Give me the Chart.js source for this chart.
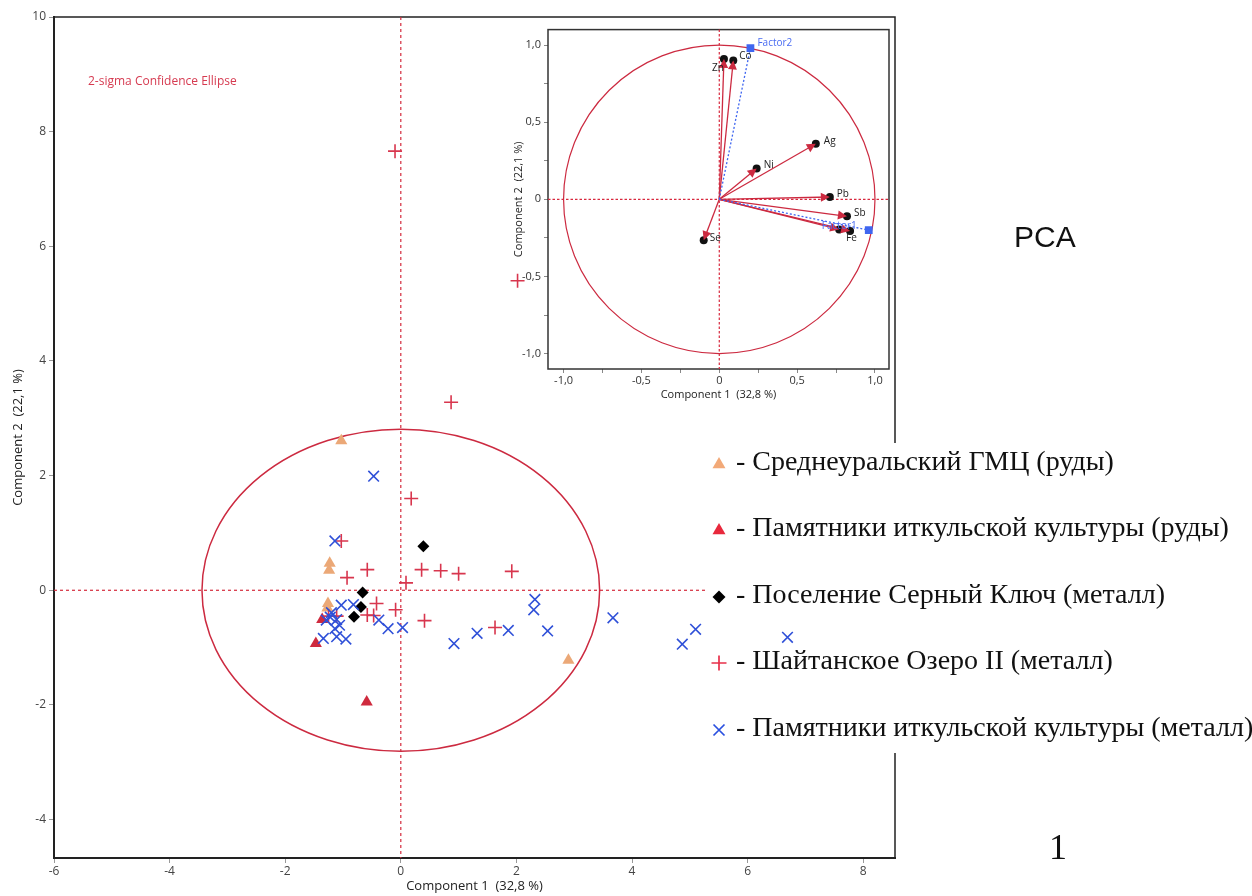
<!DOCTYPE html>
<html><head><meta charset="utf-8">
<script src="https://cdn.jsdelivr.net/npm/chart.js@4.4.1/dist/chart.umd.min.js"></script>
<style>
html,body{margin:0;padding:0;background:#fff;}
#wrap{position:relative;width:1252px;height:896px;overflow:hidden;}
#main{position:absolute;left:0;top:0;}
#inset{position:absolute;left:490px;top:20px;}
</style></head><body>
<div id="wrap">
<canvas id="main" width="1252" height="896" style="width:1252px;height:896px"></canvas>
<canvas id="inset" width="405" height="385" style="width:405px;height:385px"></canvas>
</div>
<script>
// ---------- main scores plot data ----------
const xTicksMain = [-6, -4, -2, 0, 2, 4, 6, 8];
const yTicksMain = [-4, -2, 0, 2, 4, 6, 8, 10];

const legendLabels = [
  '- Среднеуральский ГМЦ (руды)',
  '- Памятники иткульской культуры (руды)',
  '- Поселение Серный Ключ (металл)',
  '- Шайтанское Озеро II (металл)',
  '- Памятники иткульской культуры (металл)'
];

const oresSredneural = [[-1.03, 2.61], [-1.23, 0.47], [-1.24, 0.35], [-1.26, -0.23], [-1.27, -0.31], [2.90, -1.22]];
const oresItkul = [[-1.36, -0.51], [-1.47, -0.93], [-0.59, -1.95]];
const metalSerny = [[0.39, 0.77], [-0.66, -0.04], [-0.69, -0.29], [-0.81, -0.46]];
const metalShaitan = [[-0.10, 7.66], [2.02, 5.40], [0.87, 3.28], [0.18, 1.60], [-1.03, 0.86], [-0.58, 0.36],
  [-0.93, 0.22], [0.36, 0.36], [0.69, 0.34], [1.00, 0.29], [1.92, 0.33], [0.09, 0.13], [-0.42, -0.23],
  [-0.09, -0.34], [-0.58, -0.43], [-0.47, -0.44], [0.41, -0.53], [-1.11, -0.45], [-1.25, -0.45], [1.63, -0.65]];
const metalItkul = [[-0.47, 1.99], [-1.14, 0.86], [-1.03, -0.26], [-0.82, -0.25], [-1.20, -0.39], [-1.11, -0.51],
  [-1.29, -0.52], [-1.22, -0.47], [-1.06, -0.61], [-1.14, -0.67], [-1.34, -0.84], [-1.11, -0.81], [-0.95, -0.85],
  [-0.38, -0.52], [-0.22, -0.67], [0.03, -0.65], [0.92, -0.93], [1.32, -0.75], [1.86, -0.70], [2.30, -0.34],
  [2.32, -0.16], [2.54, -0.71], [3.67, -0.48], [4.87, -0.94], [5.10, -0.68], [6.69, -0.82]];

const ellipseCenter = [0, 0];
const ellipseRadii = [3.44, 2.81];

// ---------- inset loadings plot data ----------
const insetTicks = [-1, -0.75, -0.5, -0.25, 0, 0.25, 0.5, 0.75, 1];
const insetTickLabels = {'-1': '-1,0', '-0.5': '-0,5', '0': '0', '0.5': '0,5', '1': '1,0'};
const loadingNames = ['Zn', 'Co', 'Ag', 'Ni', 'Pb', 'Sb', 'Fe', '', 'Se'];
const loadingX = [0.03, 0.09, 0.62, 0.24, 0.71, 0.82, 0.84, 0.77, -0.10];
const loadingY = [0.91, 0.90, 0.36, 0.20, 0.015, -0.11, -0.205, -0.195, -0.265];
const factorNames = ['Factor2', 'Factor1'];
const factorX = [0.20, 0.96];
const factorY = [0.98, -0.20];

// ---------- styles ----------
const C_ORANGE = '#EBA877';
const C_REDTRI = '#CF2A3E';
const C_PLUS = '#D8364E';
const C_CROSS = '#2F50D8';
const C_RED = '#CC2A40';
const SANS = '"Open Sans", "Noto Sans", sans-serif';
const SERIF = '"Liberation Serif", "DejaVu Serif", serif';

const toPts = arr => arr.map(p => ({x: p[0], y: p[1]}));

function drawMarker(ctx, kind, x, y, r, color) {
  ctx.save();
  ctx.fillStyle = color; ctx.strokeStyle = color; ctx.lineWidth = 1.7;
  ctx.beginPath();
  if (kind === 'triangle') {
    ctx.moveTo(x, y - r); ctx.lineTo(x + 0.866 * r, y + 0.5 * r); ctx.lineTo(x - 0.866 * r, y + 0.5 * r);
    ctx.closePath(); ctx.fill();
  } else if (kind === 'diamond') {
    ctx.moveTo(x, y - r); ctx.lineTo(x + r, y); ctx.lineTo(x, y + r); ctx.lineTo(x - r, y);
    ctx.closePath(); ctx.fill();
  } else if (kind === 'plus') {
    ctx.moveTo(x - r, y); ctx.lineTo(x + r, y); ctx.moveTo(x, y - r); ctx.lineTo(x, y + r); ctx.stroke();
  } else if (kind === 'x') {
    ctx.moveTo(x - r, y - r); ctx.lineTo(x + r, y + r); ctx.moveTo(x + r, y - r); ctx.lineTo(x - r, y + r); ctx.stroke();
  }
  ctx.restore();
}

const legendKinds = ['triangle', 'triangle', 'diamond', 'plus', 'x'];
const legendColors = ['#F2A978', '#E8283C', '#000000', '#E8304A', '#2A50E0'];
const legendSizes = [7.5, 7.5, 6.5, 7.5, 5.5];

const mainDecor = {
  id: 'mainDecor',
  beforeDatasetsDraw(chart) {
    const {ctx, chartArea: a, scales: {x, y}} = chart;
    ctx.save();
    // top & right frame
    ctx.strokeStyle = '#222'; ctx.lineWidth = 1.5;
    ctx.beginPath(); ctx.moveTo(a.left, a.top); ctx.lineTo(a.right, a.top); ctx.lineTo(a.right, a.bottom); ctx.stroke();
    // zero reference lines
    const x0 = x.getPixelForValue(0), y0 = y.getPixelForValue(0);
    ctx.strokeStyle = '#D42A3C'; ctx.lineWidth = 1.2; ctx.setLineDash([3, 3]);
    ctx.beginPath(); ctx.moveTo(x0, a.top); ctx.lineTo(x0, a.bottom); ctx.stroke();
    ctx.beginPath(); ctx.moveTo(a.left, y0); ctx.lineTo(a.right, y0); ctx.stroke();
    ctx.setLineDash([]);
    // 2-sigma ellipse
    const cx = x.getPixelForValue(ellipseCenter[0]), cy = y.getPixelForValue(ellipseCenter[1]);
    const rx = Math.abs(x.getPixelForValue(ellipseCenter[0] + ellipseRadii[0]) - cx);
    const ry = Math.abs(y.getPixelForValue(ellipseCenter[1] + ellipseRadii[1]) - cy);
    ctx.strokeStyle = C_RED; ctx.lineWidth = 1.5;
    ctx.beginPath(); ctx.ellipse(cx, cy, rx, ry, 0, 0, Math.PI * 2); ctx.stroke();
    // annotation
    ctx.fillStyle = '#D63A50'; ctx.font = '12px ' + SANS; ctx.textBaseline = 'middle'; ctx.textAlign = 'left';
    ctx.fillText('2-sigma Confidence Ellipse', a.left + 34, a.top + 65);
    // legend box
    const lx = 707, ly = 443, lw = 1252 - 707, lh = 310;
    ctx.fillStyle = '#fff'; ctx.fillRect(lx, ly, lw, lh);
    const rows = [463, 529, 596, 662, 729];
    ctx.font = '28px ' + SERIF; ctx.fillStyle = '#111'; ctx.textBaseline = 'middle';
    legendLabels.forEach((t, i) => {
      drawMarker(ctx, legendKinds[i], 719, rows[i] + (legendKinds[i] === 'triangle' ? 1.5 : 1), legendSizes[i], legendColors[i]);
      ctx.fillText(t, 736, rows[i]);
    });
    ctx.restore();
  },
  afterDraw(chart) {
    const {ctx} = chart;
    ctx.save();
    ctx.fillStyle = '#111'; ctx.textBaseline = 'alphabetic'; ctx.textAlign = 'left';
    ctx.font = '30px "Liberation Sans", Arial, sans-serif';
    ctx.fillText('PCA', 1014, 247);
    ctx.font = '36px ' + SERIF; ctx.textAlign = 'center';
    ctx.fillText('1', 1058, 859);
    ctx.restore();
  }
};

new Chart(document.getElementById('main'), {
  type: 'scatter',
  data: {
    datasets: [
      {label: legendLabels[4], data: toPts(metalItkul), pointStyle: 'crossRot', radius: 7.5, borderColor: C_CROSS, backgroundColor: C_CROSS, borderWidth: 1.6, order: 0},
      {label: legendLabels[3], data: toPts(metalShaitan), pointStyle: 'cross', radius: 7, borderColor: C_PLUS, backgroundColor: C_PLUS, borderWidth: 1.6, order: 1},
      {label: legendLabels[2], data: toPts(metalSerny), pointStyle: 'rectRot', radius: 6, borderColor: '#000', backgroundColor: '#000', borderWidth: 0, order: 2},
      {label: legendLabels[1], data: toPts(oresItkul), pointStyle: 'triangle', radius: 7, borderColor: C_REDTRI, backgroundColor: C_REDTRI, borderWidth: 0, order: 3},
      {label: legendLabels[0], data: toPts(oresSredneural), pointStyle: 'triangle', radius: 7, borderColor: C_ORANGE, backgroundColor: C_ORANGE, borderWidth: 0, order: 4}
    ]
  },
  options: {
    responsive: false, animation: false, devicePixelRatio: 1,
    layout: {padding: {left: 0, top: 17, right: 357, bottom: 0}},
    plugins: {legend: {display: false}, tooltip: {enabled: false}},
    scales: {
      x: {
        type: 'linear', min: -6, max: 8.55,
        afterBuildTicks: s => { s.ticks = xTicksMain.map(v => ({value: v})); },
        afterFit: s => { s.height = 38; },
        grid: {drawOnChartArea: false, drawTicks: true, tickLength: 5, tickColor: '#999', tickWidth: 1},
        border: {display: true, color: '#222', width: 2},
        ticks: {color: '#444', font: {size: 12, family: SANS}, padding: 1, maxRotation: 0, callback: v => String(v)},
        title: {display: true, text: 'Component 1  (32,8 %)', color: '#222', font: {size: 13, family: SANS}, padding: {top: 0, bottom: 2}}
      },
      y: {
        type: 'linear', min: -4.67, max: 10,
        afterBuildTicks: s => { s.ticks = yTicksMain.map(v => ({value: v})); },
        afterFit: s => { s.width = 54; },
        grid: {drawOnChartArea: false, drawTicks: true, tickLength: 5, tickColor: '#999', tickWidth: 1},
        border: {display: true, color: '#222', width: 2},
        ticks: {color: '#444', font: {size: 12, family: SANS}, padding: 3, callback: v => String(v)},
        title: {display: true, text: 'Component 2  (22,1 %)', color: '#222', font: {size: 13, family: SANS}, padding: {top: 10, bottom: 0}}
      }
    }
  },
  plugins: [mainDecor]
});

// ---------- inset ----------
function arrowHead(ctx, x0, y0, x1, y1, len, hw, color) {
  const ang = Math.atan2(y1 - y0, x1 - x0);
  ctx.save();
  ctx.fillStyle = color;
  ctx.beginPath();
  ctx.moveTo(x1, y1);
  ctx.lineTo(x1 - len * Math.cos(ang) + hw * Math.sin(ang), y1 - len * Math.sin(ang) - hw * Math.cos(ang));
  ctx.lineTo(x1 - len * Math.cos(ang) - hw * Math.sin(ang), y1 - len * Math.sin(ang) + hw * Math.cos(ang));
  ctx.closePath(); ctx.fill();
  ctx.restore();
}

const loadLabelOffsets = [[-6, 9, 'center'], [6, -4, 'left'], [8, -3, 'left'], [7, -3, 'left'], [7, -3, 'left'], [7, -3, 'left'], [-4, 7, 'left'], [0, 0, 'left'], [6, -2, 'left']];

const insetDecor = {
  id: 'insetDecor',
  beforeDraw(chart) {
    const {ctx, chartArea: a} = chart;
    ctx.save(); ctx.fillStyle = '#fff'; ctx.fillRect(a.left, a.top, a.right - a.left, a.bottom - a.top); ctx.restore();
  },
  beforeDatasetsDraw(chart) {
    const {ctx, chartArea: a, scales: {x, y}} = chart;
    ctx.save();
    ctx.strokeStyle = '#333'; ctx.lineWidth = 1.5;
    ctx.strokeRect(a.left, a.top, a.right - a.left, a.bottom - a.top);
    const x0 = x.getPixelForValue(0), y0 = y.getPixelForValue(0);
    ctx.strokeStyle = '#D8283E'; ctx.lineWidth = 1.2; ctx.setLineDash([2.5, 2]);
    ctx.beginPath(); ctx.moveTo(x0, a.top); ctx.lineTo(x0, a.bottom); ctx.stroke();
    ctx.beginPath(); ctx.moveTo(a.left, y0); ctx.lineTo(a.right, y0); ctx.stroke();
    ctx.setLineDash([]);
    // unit circle
    const rx = Math.abs(x.getPixelForValue(1) - x0), ry = Math.abs(y.getPixelForValue(1) - y0);
    ctx.strokeStyle = C_RED; ctx.lineWidth = 1.2;
    ctx.beginPath(); ctx.ellipse(x0, y0, rx, ry, 0, 0, Math.PI * 2); ctx.stroke();
    // loading vectors
    ctx.strokeStyle = C_RED; ctx.lineWidth = 1.3;
    loadingX.forEach((v, i) => {
      ctx.beginPath(); ctx.moveTo(x0, y0); ctx.lineTo(x.getPixelForValue(v), y.getPixelForValue(loadingY[i])); ctx.stroke();
    });
    // factor vectors
    ctx.strokeStyle = '#3F66F0'; ctx.lineWidth = 1.3; ctx.setLineDash([2, 2]);
    factorX.forEach((v, i) => {
      ctx.beginPath(); ctx.moveTo(x0, y0); ctx.lineTo(x.getPixelForValue(v), y.getPixelForValue(factorY[i])); ctx.stroke();
    });
    ctx.restore();
  },
  afterDatasetsDraw(chart) {
    const {ctx, scales: {x, y}} = chart;
    const x0 = x.getPixelForValue(0), y0 = y.getPixelForValue(0);
    ctx.save();
    loadingX.forEach((v, i) => {
      arrowHead(ctx, x0, y0, x.getPixelForValue(v), y.getPixelForValue(loadingY[i]), 9, 4.5, C_RED);
    });
    ctx.font = '10px ' + SANS; ctx.fillStyle = '#222'; ctx.textBaseline = 'middle';
    loadingNames.forEach((n, i) => {
      if (!n) return;
      const o = loadLabelOffsets[i];
      ctx.textAlign = o[2];
      ctx.fillText(n, x.getPixelForValue(loadingX[i]) + o[0], y.getPixelForValue(loadingY[i]) + o[1]);
    });
    ctx.fillStyle = '#4A6CF2';
    ctx.textAlign = 'left';
    ctx.fillText(factorNames[0], x.getPixelForValue(factorX[0]) + 7, y.getPixelForValue(factorY[0]) - 5);
    ctx.textAlign = 'right';
    ctx.fillText(factorNames[1], x.getPixelForValue(factorX[1]) - 12, y.getPixelForValue(factorY[1]) - 4);
    ctx.restore();
  }
};

new Chart(document.getElementById('inset'), {
  type: 'scatter',
  data: {
    datasets: [
      {label: 'factors', data: factorX.map((v, i) => ({x: v, y: factorY[i]})), pointStyle: 'rect', radius: 5.5, backgroundColor: '#3F66F0', borderColor: '#3F66F0', borderWidth: 0, order: 0},
      {label: 'loadings', data: loadingX.map((v, i) => ({x: v, y: loadingY[i]})), pointStyle: 'circle', radius: 4, backgroundColor: '#111', borderColor: '#111', borderWidth: 0, order: 1}
    ]
  },
  options: {
    responsive: false, animation: false, devicePixelRatio: 1,
    layout: {padding: {left: 0, top: 7, right: 6, bottom: 0}},
    plugins: {legend: {display: false}, tooltip: {enabled: false}},
    scales: {
      x: {
        type: 'linear', min: -1.1, max: 1.09,
        afterBuildTicks: s => { s.ticks = insetTicks.map(v => ({value: v})); },
        afterFit: s => { s.height = 36; },
        grid: {drawOnChartArea: false, drawTicks: true, tickLength: 4, tickColor: '#888'},
        border: {display: false},
        ticks: {color: '#333', font: {size: 11, family: SANS}, padding: 1, maxRotation: 0, autoSkip: false,
          callback: v => insetTickLabels[String(v)] || ''},
        title: {display: true, text: 'Component 1  (32,8 %)', color: '#222', font: {size: 11, family: SANS}, padding: {top: 0, bottom: 4}}
      },
      y: {
        type: 'linear', min: -1.1, max: 1.1,
        afterBuildTicks: s => { s.ticks = insetTicks.map(v => ({value: v})); },
        afterFit: s => { s.width = 58; },
        grid: {drawOnChartArea: false, drawTicks: true, tickLength: 4, tickColor: '#888'},
        border: {display: false},
        ticks: {color: '#333', font: {size: 11, family: SANS}, padding: 3, autoSkip: false,
          callback: v => insetTickLabels[String(v)] || ''},
        title: {display: true, text: 'Component 2  (22,1 %)', color: '#222', font: {size: 11, family: SANS}, padding: {top: 22, bottom: 0}}
      }
    }
  },
  plugins: [insetDecor]
});
</script>
</body></html>
